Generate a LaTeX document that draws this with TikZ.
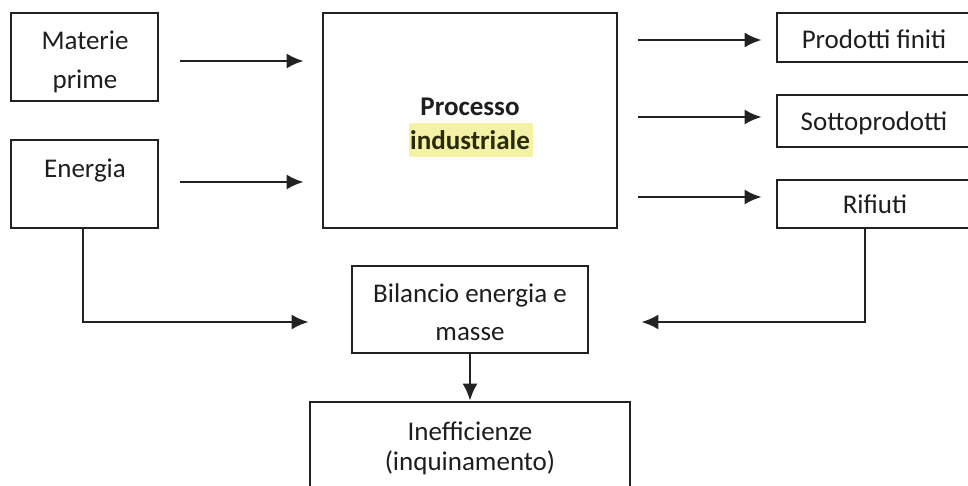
\documentclass[tikz,border=0pt]{standalone}
\usepackage{fontspec}
\setmainfont{Carlito}
\usetikzlibrary{arrows.meta}
\definecolor{ln}{HTML}{222222}
\definecolor{hl}{HTML}{F4F2A6}
\definecolor{tx}{HTML}{1E1E1E}
\tikzset{
  box/.style={draw=ln, line width=2.6pt, inner sep=0pt, fill=white},
  txt/.style={text=tx, inner sep=0pt, font=\fontsize{27}{38}\selectfont},
  arr/.style={draw=ln, line width=2.6pt, -{Latex[length=17pt,width=15pt]}},
}
\begin{document}
\begin{tikzpicture}[x=1pt,y=-1pt]
\useasboundingbox (0,0) rectangle (968,485);
\fill[white] (0,0) rectangle (968,485);
\clip (0,0) rectangle (968,485);
% boxes
\node[box, minimum width=147pt, minimum height=88pt] (mp) at (84.5,57) {};
\node[box, minimum width=147pt, minimum height=88pt] (en) at (84.5,184) {};
\node[box, minimum width=294pt, minimum height=215pt] (proc) at (470,120.5) {};
\node[box, minimum width=220pt, minimum height=49pt] (pf) at (887,37.5) {};
\node[box, minimum width=220pt, minimum height=52pt] (sp) at (887,121) {};
\node[box, minimum width=220pt, minimum height=48pt] (rif) at (887,204) {};
\node[box, minimum width=236pt, minimum height=87pt] (bil) at (470,309.5) {};
\node[box, minimum width=320pt, minimum height=130pt] (ineff) at (470,467) {};
% highlight
\fill[hl] (409,123) rectangle (533,157);
% texts
\node[txt, anchor=base] (tmp1) at (85,49) {Materie};
\node[txt, anchor=base] (tmp2) at (85,88) {prime};
\node[txt, anchor=base] (ten) at (85,177) {Energia};
\node[txt, anchor=base, font=\fontsize{27}{38}\selectfont\bfseries] (tpr1) at (470,115) {Processo};
\node[txt, anchor=base, font=\fontsize{27}{38}\selectfont\bfseries, text={rgb,255:red,40;green,42;blue,10}] (tpr2) at (470,149) {industriale};
\node[txt, anchor=base] (tpf) at (874,48) {Prodotti finiti};
\node[txt, anchor=base] (tsp) at (874,130) {Sottoprodotti};
\node[txt, anchor=base] (trif) at (875,213) {Rifiuti};
\node[txt, anchor=base] (tbil1) at (470,302) {Bilancio energia e};
\node[txt, anchor=base] (tbil2) at (470,340) {masse};
\node[txt, anchor=base] (tin1) at (470,440) {Inefficienze};
\node[txt, anchor=base] (tin2) at (470,470) {(inquinamento)};
% connectors
\draw[arr, shorten <=21pt, shorten >=18pt] (mp.east |- 0,61) -- (proc.west |- 0,61);
\draw[arr, shorten <=21pt, shorten >=18pt] (en.east |- 0,182) -- (proc.west |- 0,182);
\draw[arr, shorten <=20pt, shorten >=14pt] (proc.east |- 0,40) -- (pf.west |- 0,40);
\draw[arr, shorten <=20pt, shorten >=14pt] (proc.east |- 0,117) -- (sp.west |- 0,117);
\draw[arr, shorten <=20pt, shorten >=14pt] (proc.east |- 0,197) -- (rif.west |- 0,197);
\draw[arr, shorten >=42pt] (en.south -| 83,0) |- (bil.west |- 0,322);
\draw[arr, shorten >=52pt] (rif.south -| 865,0) |- (bil.east |- 0,322);
\draw[arr] (bil.south) -- (ineff.north);
\end{tikzpicture}
\end{document}
